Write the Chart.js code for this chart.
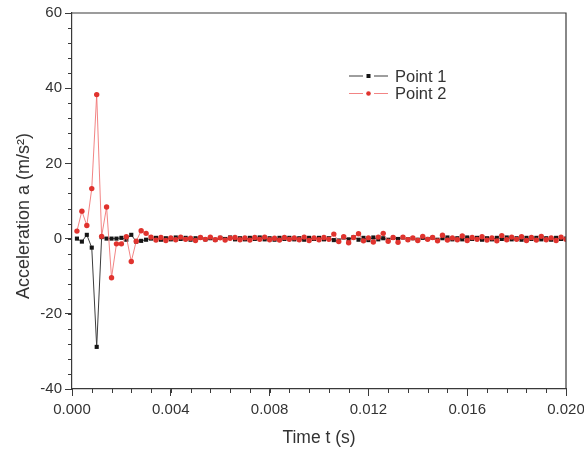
<!DOCTYPE html>
<html>
<head>
<meta charset="utf-8">
<script src="https://cdn.jsdelivr.net/npm/chart.js@4.4.1/dist/chart.umd.min.js"></script>
<style>
  html, body { margin: 0; padding: 0; background: #fff; }
  #box { width: 584px; height: 451px; }
</style>
</head>
<body>
<div id="box"><canvas id="chart" width="584" height="451"></canvas></div>
<script>
// sample times (s)
const times = [
  0.0002, 0.0004, 0.0006, 0.0008, 0.0010, 0.0012, 0.0014, 0.0016, 0.0018, 0.0020,
  0.0022, 0.0024, 0.0026, 0.0028, 0.0030, 0.0032, 0.0034, 0.0036, 0.0038, 0.0040,
  0.0042, 0.0044, 0.0046, 0.0048, 0.0050, 0.0052, 0.0054, 0.0056, 0.0058, 0.0060,
  0.0062, 0.0064, 0.0066, 0.0068, 0.0070, 0.0072, 0.0074, 0.0076, 0.0078, 0.0080,
  0.0082, 0.0084, 0.0086, 0.0088, 0.0090, 0.0092, 0.0094, 0.0096, 0.0098, 0.0100,
  0.0102, 0.0104, 0.0106, 0.0108, 0.0110, 0.0112, 0.0114, 0.0116, 0.0118, 0.0120,
  0.0122, 0.0124, 0.0126, 0.0128, 0.0130, 0.0132, 0.0134, 0.0136, 0.0138, 0.0140,
  0.0142, 0.0144, 0.0146, 0.0148, 0.0150, 0.0152, 0.0154, 0.0156, 0.0158, 0.0160,
  0.0162, 0.0164, 0.0166, 0.0168, 0.0170, 0.0172, 0.0174, 0.0176, 0.0178, 0.0180,
  0.0182, 0.0184, 0.0186, 0.0188, 0.0190, 0.0192, 0.0194, 0.0196, 0.0198, 0.0200
];

// acceleration, point 1 (m/s^2)
const point1 = [
  0.0, -0.8, 1.0, -2.4, -28.8, 0.4, 0.0, 0.0, 0.0, 0.2,
  -0.3, 1.0, -0.8, -0.6, -0.3, 0.0, 0.2, -0.3, 0.1, -0.2,
  0.3, -0.1, 0.2, -0.3, 0.1, 0.2, -0.2, 0.1, -0.3, 0.2,
  -0.1, 0.3, -0.2, 0.1, -0.2, 0.2, -0.1, 0.3, -0.2, 0.1,
  -0.3, 0.2, -0.1, 0.2, -0.2, 0.1, -0.3, 0.2, -0.1, 0.2,
  -0.2, 0.1, -0.4, -0.5, 0.3, -0.2, 0.4, -0.3, 0.2, -0.4,
  0.3, -0.2, 0.1, -0.3, 0.2, -0.1, 0.3, -0.2, 0.1, -0.3,
  0.2, -0.1, 0.2, -0.3, 0.1, 0.3, -0.2, 0.1, -0.2, 0.3,
  -0.1, 0.2, -0.3, 0.1, -0.2, 0.2, -0.1, 0.3, -0.2, 0.1,
  -0.3, 0.2, -0.1, 0.2, -0.2, 0.1, -0.3, 0.2, -0.1, 0.0
];

// acceleration, point 2 (m/s^2)
const point2 = [
  2.0, 7.3, 3.5, 13.3, 38.3, 0.6, 8.4, -10.4, -1.4, -1.4,
  0.5, -6.1, -0.7, 2.1, 1.4, 0.4, -0.4, 0.3, -0.5, 0.2,
  -0.3, 0.4, -0.2, 0.1, -0.5, 0.3, -0.2, 0.4, -0.3, 0.2,
  -0.4, 0.1, 0.3, -0.3, 0.2, -0.4, 0.3, -0.2, 0.4, -0.3,
  0.1, -0.4, 0.3, -0.2, 0.2, -0.3, 0.4, -0.5, 0.2, -0.3,
  0.3, -0.2, 1.2, -0.8, 0.5, -1.1, 0.3, 1.3, -0.6, 0.2,
  -0.9, 0.4, 1.4, -0.7, 0.3, -1.0, 0.4, -0.3, 0.2, -0.5,
  0.6, -0.2, 0.3, -0.6, 0.9, -0.4, 0.2, -0.3, 0.7, -0.5,
  0.3, -0.2, 0.5, -0.4, 0.2, -0.6, 0.8, -0.3, 0.4, -0.2,
  0.5, -0.5, 0.3, -0.4, 0.6, -0.3, 0.2, -0.5, 0.4, -0.2
];

const seriesLabels = ["Point 1", "Point 2"];
const xTicks = [0, 0.004, 0.008, 0.012, 0.016, 0.020];
const yTicks = [-40, -20, 0, 20, 40, 60];

const axisColor = "#3a3a3a";
const textColor = "#333";
const fontFamily = "'Liberation Sans', Arial, sans-serif";

const toXY = (ys) => ys.map((v, i) => ({ x: times[i], y: v }));

// minor ticks + frame on top/right
const framePlugin = {
  id: "frame",
  afterDraw(chart) {
    const { ctx, chartArea: a, scales } = chart;
    ctx.save();
    ctx.strokeStyle = axisColor;
    ctx.lineWidth = 1.2;
    ctx.beginPath();
    ctx.moveTo(a.left, a.top);
    ctx.lineTo(a.right, a.top);
    ctx.lineTo(a.right, a.bottom);
    ctx.stroke();

    ctx.lineWidth = 1;
    ctx.beginPath();
    for (let v = 0; v <= 0.02 + 1e-9; v += 0.0008) {
      const px = Math.round(scales.x.getPixelForValue(v)) + 0.5;
      ctx.moveTo(px, a.bottom);
      ctx.lineTo(px, a.bottom + 4);
    }
    for (let v = -40; v <= 60; v += 4) {
      const py = Math.round(scales.y.getPixelForValue(v)) + 0.5;
      ctx.moveTo(a.left, py);
      ctx.lineTo(a.left - 4, py);
    }
    ctx.stroke();
    ctx.restore();
  }
};

// legend drawn as line-marker-line, like the original plot
const legendPlugin = {
  id: "lineLegend",
  afterDraw(chart) {
    const { ctx } = chart;
    const x0 = 349, y0 = 76, rowH = 17.5;
    ctx.save();
    chart.data.datasets.forEach((ds, i) => {
      const y = y0 + i * rowH;
      ctx.strokeStyle = ds.borderColor;
      ctx.lineWidth = 1;
      ctx.beginPath();
      ctx.moveTo(x0, y);
      ctx.lineTo(x0 + 14, y);
      ctx.moveTo(x0 + 25, y);
      ctx.lineTo(x0 + 39, y);
      ctx.stroke();
      ctx.fillStyle = ds.pointBackgroundColor;
      if (ds.pointStyle === "rect") {
        ctx.fillRect(x0 + 17.5, y - 2, 4, 4);
      } else {
        ctx.beginPath();
        ctx.arc(x0 + 19.5, y, 2.3, 0, Math.PI * 2);
        ctx.fill();
      }
      ctx.fillStyle = textColor;
      ctx.font = "16.5px " + fontFamily;
      ctx.textBaseline = "middle";
      ctx.fillText(ds.label, x0 + 46, y + 1);
    });
    ctx.restore();
  }
};

new Chart(document.getElementById("chart"), {
  type: "line",
  data: {
    datasets: [
      {
        label: seriesLabels[0],
        data: toXY(point1),
        order: 1,
        borderColor: "#3c3c3c",
        borderWidth: 1,
        pointStyle: "rect",
        pointRadius: 2.9,
        pointBackgroundColor: "#151515",
        pointBorderWidth: 0,
        tension: 0
      },
      {
        label: seriesLabels[1],
        data: toXY(point2),
        order: 0,
        borderColor: "rgba(240,110,110,0.85)",
        borderWidth: 1,
        pointStyle: "circle",
        pointRadius: 2.7,
        pointBackgroundColor: "#e0332e",
        pointBorderWidth: 0,
        tension: 0
      }
    ]
  },
  plugins: [framePlugin, legendPlugin],
  options: {
    responsive: false,
    animation: false,
    layout: { padding: { left: 0, right: 18, top: 13, bottom: 0 } },
    plugins: {
      legend: { display: false },
      tooltip: { enabled: false }
    },
    scales: {
      x: {
        type: "linear",
        min: 0,
        max: 0.02,
        afterBuildTicks: (s) => { s.ticks = xTicks.map((v) => ({ value: v })); },
        afterFit: (s) => { s.height = 62; s.paddingLeft = 0; s.paddingRight = 0; },
        border: { display: true, color: axisColor, width: 1.2 },
        grid: { drawOnChartArea: false, drawTicks: true, tickLength: 7, color: axisColor },
        ticks: {
          color: textColor,
          padding: 5,
          maxRotation: 0,
          font: { family: fontFamily, size: 15 },
          callback: (v) => Number(v).toFixed(3)
        },
        title: {
          display: true,
          text: "Time t (s)",
          color: textColor,
          padding: { top: 6, bottom: 2.5 },
          font: { family: fontFamily, size: 17.5 }
        }
      },
      y: {
        type: "linear",
        min: -40,
        max: 60,
        afterBuildTicks: (s) => { s.ticks = yTicks.map((v) => ({ value: v })); },
        afterFit: (s) => { s.width = 72; s.paddingTop = 0; s.paddingBottom = 0; },
        border: { display: true, color: axisColor, width: 1.2 },
        grid: { drawOnChartArea: false, drawTicks: true, tickLength: 7, color: axisColor },
        ticks: {
          color: textColor,
          padding: 3,
          font: { family: fontFamily, size: 15 }
        },
        title: {
          display: true,
          text: "Acceleration a (m/s²)      ",
          color: textColor,
          padding: { top: 13.5, bottom: 4 },
          font: { family: fontFamily, size: 18 }
        }
      }
    }
  }
});
</script>
</body>
</html>
